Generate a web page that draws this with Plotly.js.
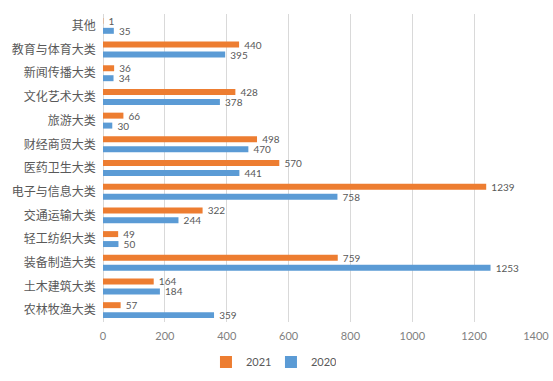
<!DOCTYPE html>
<html><head><meta charset="utf-8">
<script src="https://cdn.plot.ly/plotly-3.0.1.min.js"></script>
<style>body{margin:0;background:#fff}#c{width:553px;height:381px}</style>
</head><body><div id="c"></div>
<script>
var categories = ['农林牧渔大类','土木建筑大类','装备制造大类','轻工纺织大类','交通运输大类','电子与信息大类','医药卫生大类','财经商贸大类','旅游大类','文化艺术大类','新闻传播大类','教育与体育大类','其他'];
var values2021 = [57,164,759,49,322,1239,570,498,66,428,36,440,1];
var values2020 = [359,184,1253,50,244,758,441,470,30,378,34,395,35];
var xTicks = [0,200,400,600,800,1000,1200,1400];

var font = 'Lato, "Noto Sans CJK SC", sans-serif';
function tr(name, vals, color){
  return {type:'bar', orientation:'h', name:name, y:categories, x:vals,
    marker:{color:color}, text:vals.map(function(v){return '  '+v;}), textposition:'outside',
    constraintext:'none', cliponaxis:false, textfont:{size:10,color:'#595959',family:font}, hoverinfo:'none'};
}
var data = [tr('2020', values2020, '#5B9BD5'), tr('2021', values2021, '#ED7D31')];
var layout = {
  width:553, height:381, margin:{l:103,r:17,t:14,b:59},
  paper_bgcolor:'#fff', plot_bgcolor:'#fff',
  barmode:'group', bargap:0.16, bargroupgap:0.4,
  font:{family:font, color:'#595959', size:12},
  xaxis:{range:[0,1400], tickvals:xTicks, showgrid:true, gridcolor:'#d9d9d9', gridwidth:1,
    zeroline:true, zerolinecolor:'#d9d9d9', showline:false, ticks:'', ticklabelstandoff:6,
    tickfont:{size:11,color:'#7f7f7f'}, fixedrange:true, automargin:false},
  yaxis:{type:'category', showgrid:false, showline:false, ticks:'', ticklen:0, ticksuffix:'  ',
    tickfont:{size:12,color:'#595959'}, automargin:false},
  showlegend:true,
  legend:{orientation:'h', x:0.49, xanchor:'center', xref:'container', y:0.05, yref:'container', yanchor:'middle', traceorder:'reversed',
    itemwidth:30, entrywidth:20, entrywidthmode:'pixels',
    font:{size:11,color:'#595959'}}
};
Plotly.newPlot('c', data, layout, {displayModeBar:false, staticPlot:true});
</script></body></html>
